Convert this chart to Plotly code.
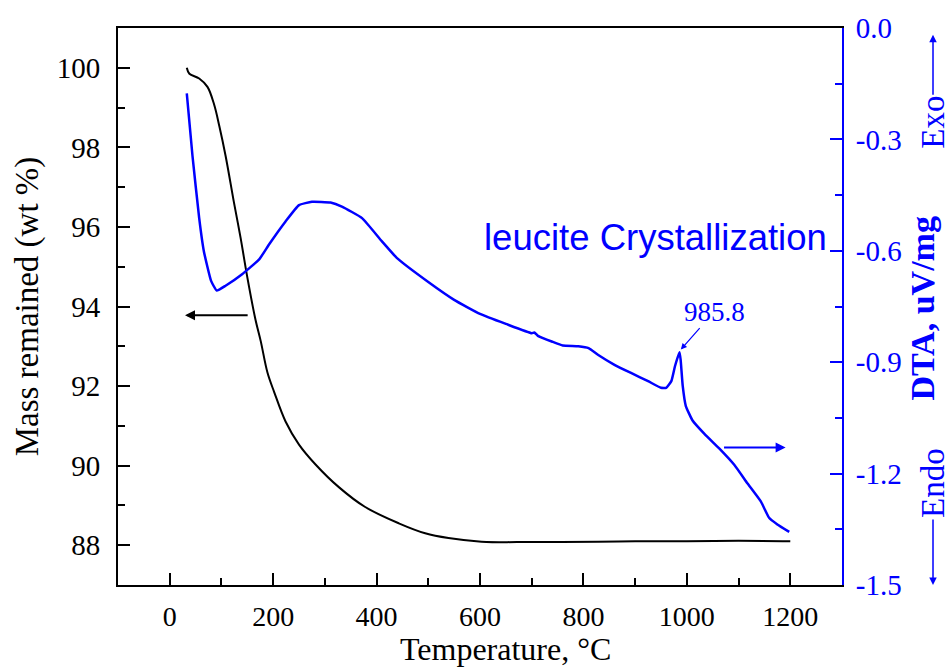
import plotly.graph_objects as go

# ---- data ----
mass_T = [33, 38, 57, 73, 86, 96, 108, 124, 137, 150, 166, 176, 189, 202, 224, 250,
          282, 327, 378, 443, 494, 539, 603, 700, 828, 900, 1000, 1100, 1200]
mass_wt = [100.0, 99.85, 99.73, 99.52, 99.07, 98.53, 97.79, 96.63, 95.73, 94.74, 93.66,
           93.13, 92.34, 91.85, 91.11, 90.53, 90.03, 89.46, 88.96, 88.55, 88.30, 88.18,
           88.09, 88.08, 88.09, 88.10, 88.10, 88.11, 88.10]

dta_T = [33, 44, 57, 66, 80, 91, 108, 140, 173, 192, 224, 250, 275, 311, 333, 372, 410,
         439, 500, 550, 600, 650, 700, 705, 712, 740, 760, 790, 810, 828, 860, 892, 925,
         950, 960, 970, 977, 985.8, 988, 992, 998, 1011, 1034, 1063, 1092, 1117, 1143,
         1159, 1175, 1198]
dta_val = [-0.176, -0.344, -0.512, -0.601, -0.681, -0.707, -0.694, -0.663, -0.623, -0.583,
           -0.521, -0.477, -0.468, -0.470, -0.481, -0.512, -0.574, -0.619, -0.684, -0.732,
           -0.770, -0.797, -0.822, -0.820, -0.829, -0.845, -0.855, -0.857, -0.862, -0.880,
           -0.907, -0.929, -0.951, -0.969, -0.969, -0.951, -0.911, -0.873, -0.894, -0.964,
           -1.018, -1.057, -1.093, -1.133, -1.177, -1.226, -1.275, -1.319, -1.337, -1.357]

x_ticks = [0, 200, 400, 600, 800, 1000, 1200]
left_ticks = [88, 90, 92, 94, 96, 98, 100]
right_ticks = [0.0, -0.3, -0.6, -0.9, -1.2, -1.5]
right_ticktext = ["0.0", "-0.3", "-0.6", "-0.9", "-1.2", "-1.5"]

peak_T = 985.8
peak_label = "985.8"

BLUE = "#0000FF"
SERIF = "Liberation Serif"

fig = go.Figure()
fig.add_trace(go.Scatter(x=mass_T, y=mass_wt, mode="lines", line=dict(color="black", width=2),
                         line_shape="spline", showlegend=False, yaxis="y"))
fig.add_trace(go.Scatter(x=dta_T, y=dta_val, mode="lines",
                         line=dict(color=BLUE, width=2.5, shape="spline", smoothing=0.4),
                         showlegend=False, yaxis="y2"))

fig.update_layout(
    width=951, height=667,
    margin=dict(l=118, r=109, t=21, b=82),
    plot_bgcolor="white", paper_bgcolor="white",
    font=dict(family=SERIF, size=28, color="black"),
    xaxis=dict(
        range=[-100, 1300], tickvals=x_ticks, ticks="inside", ticklen=12, tickwidth=2,
        tickcolor="black", showline=True, linecolor="black", linewidth=2, mirror=True,
        showgrid=False, zeroline=False, ticklabelstandoff=5,
        tickfont=dict(family=SERIF, size=28),
        minor=dict(dtick=100, tick0=0, ticks="inside", ticklen=7, tickwidth=2, tickcolor="black"),
    ),
    yaxis=dict(
        range=[87, 101], tickvals=left_ticks, ticks="inside", ticklen=12, tickwidth=2,
        tickcolor="black", showline=True, linecolor="black", linewidth=2,
        showgrid=False, zeroline=False, ticklabelstandoff=10,
        tickfont=dict(family=SERIF, size=29),
        minor=dict(dtick=1, tick0=0, ticks="inside", ticklen=7, tickwidth=2, tickcolor="black"),
        title=dict(text="Mass remained (wt %)", font=dict(family=SERIF, size=33), standoff=8),
    ),
    yaxis2=dict(
        range=[-1.5, 0.0], overlaying="y", side="right", tickvals=right_ticks,
        ticktext=right_ticktext, ticks="inside", ticklen=12, tickwidth=2, tickcolor=BLUE,
        showline=True, linecolor=BLUE, linewidth=2, showgrid=False, zeroline=False,
        ticklabelstandoff=6, tickfont=dict(family=SERIF, size=29, color=BLUE),
        minor=dict(dtick=0.15, tick0=0, ticks="inside", ticklen=7, tickwidth=2, tickcolor=BLUE),
    ),
)

ann = []
# x-axis title
ann.append(dict(xref="paper", yref="paper", x=(505 - 118) / 724, y=(585 - 650) / 564,
                xanchor="center", yanchor="middle", text="Temperature, °C",
                showarrow=False, font=dict(family=SERIF, size=32, color="black")))
# right-hand composite title
ann.append(dict(xref="paper", yref="paper", x=1.139, y=0.4965, text="<b>DTA, uV/mg</b>",
                textangle=-90, showarrow=False, font=dict(family=SERIF, size=34, color=BLUE)))
ann.append(dict(xref="paper", yref="paper", x=1.1257, y=0.988, ax=0, ay=88, text="Exo",
                textangle=-90, showarrow=True, arrowhead=2, arrowsize=1, arrowwidth=1.5,
                arrowcolor=BLUE, standoff=0, startstandoff=0,
                font=dict(family=SERIF, size=33, color=BLUE)))
ann.append(dict(xref="paper", yref="paper", x=1.1257, y=0.0, ax=0, ay=-102, text="Endo",
                textangle=-90, showarrow=True, arrowhead=2, arrowsize=1, arrowwidth=1.5,
                arrowcolor=BLUE, standoff=0, startstandoff=0,
                font=dict(family=SERIF, size=33, color=BLUE)))
# curve arrows
ann.append(dict(xref="x", yref="y", x=29.5, y=93.78, axref="x", ayref="y", ax=153.6, ay=93.78,
                text="", showarrow=True, arrowhead=2, arrowsize=1, arrowwidth=2, arrowcolor="black"))
ann.append(dict(xref="x", yref="y2", x=1191, y=-1.130, axref="x", ayref="y2", ax=1069, ay=-1.130,
                text="", showarrow=True, arrowhead=2, arrowsize=1, arrowwidth=2, arrowcolor=BLUE))
# peak label with its arrow
ann.append(dict(xref="x", yref="y2", x=peak_T, y=-0.870, axref="x", ayref="y2", ax=1053, ay=-0.764,
                text=peak_label, showarrow=True, arrowhead=2, arrowsize=1, arrowwidth=1.2,
                arrowcolor=BLUE, standoff=2, font=dict(family=SERIF, size=27, color=BLUE)))
ann.append(dict(xref="paper", yref="paper", x=(482 - 118) / 724, xanchor="left",
                y=(585 - 233) / 564, yanchor="middle", text="leucite Crystallization",
                showarrow=False, font=dict(family="Liberation Sans", size=36.5, color=BLUE)))
fig.update_layout(annotations=ann)

fig.write_html("out.html", config={"displayModeBar": False},
               post_script="document.body.style.margin='0px';")
